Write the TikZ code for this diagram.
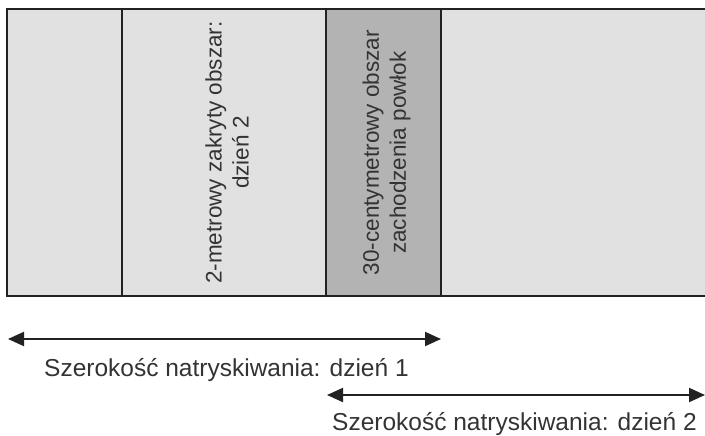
\documentclass[tikz,border=0pt]{standalone}
\usepackage{fontspec}
\setmainfont{Liberation Sans}
\usetikzlibrary{arrows.meta}
\definecolor{lightfill}{HTML}{E1E1E1}
\definecolor{darkfill}{HTML}{B3B3B3}
\definecolor{edgecol}{HTML}{222222}
\definecolor{txtcol}{HTML}{333333}
\begin{document}
\begin{tikzpicture}[x=1pt,y=-1pt,
  border/.style={draw=edgecol, line width=2.5pt},
  vlabel/.style={rotate=90, align=center, text=txtcol, font=\fontsize{22.5}{27}\selectfont, inner sep=0pt},
  hlabel/.style={anchor=base west, text=txtcol, font=\fontsize{24.5}{29}\selectfont, inner sep=0pt},
  dimline/.style={draw=edgecol, line width=2pt, {Triangle[length=16pt,width=14pt]}-{Triangle[length=16pt,width=14pt]}}]
\useasboundingbox (0,0) rectangle (705,436);
% areas
\fill[lightfill] (7,9) rectangle (705,296);
\fill[darkfill] (326,9) rectangle (441,296);
% borders
\draw[border] (705,9) -- (7,9) -- (7,296) -- (705,296);
\draw[border] (122,9) -- (122,296);
\draw[border] (326,9) -- (326,296);
\draw[border] (441,9) -- (441,296);
% labels in the strip
\node[vlabel] (zakryty) at (227,152.5) {2-metrowy zakryty obszar:\\dzień 2};
\node[vlabel] (zakladka) at (386.5,152.5) {30-centymetrowy obszar\\zachodzenia powłok};
% dimension arrows
\coordinate (d1s) at (8,339);
\coordinate (d1e) at (441,339);
\coordinate (d2s) at (327,395);
\coordinate (d2e) at (705,395);
\draw[dimline] (d1s) -- (d1e);
\draw[dimline] (d2s) -- (d2e);
\node[hlabel] (dzien1) at (44,376) {Szerokość natryskiwania: dzień 1};
\node[hlabel] (dzien2) at (332,430) {Szerokość natryskiwania: dzień 2};
\end{tikzpicture}
\end{document}
